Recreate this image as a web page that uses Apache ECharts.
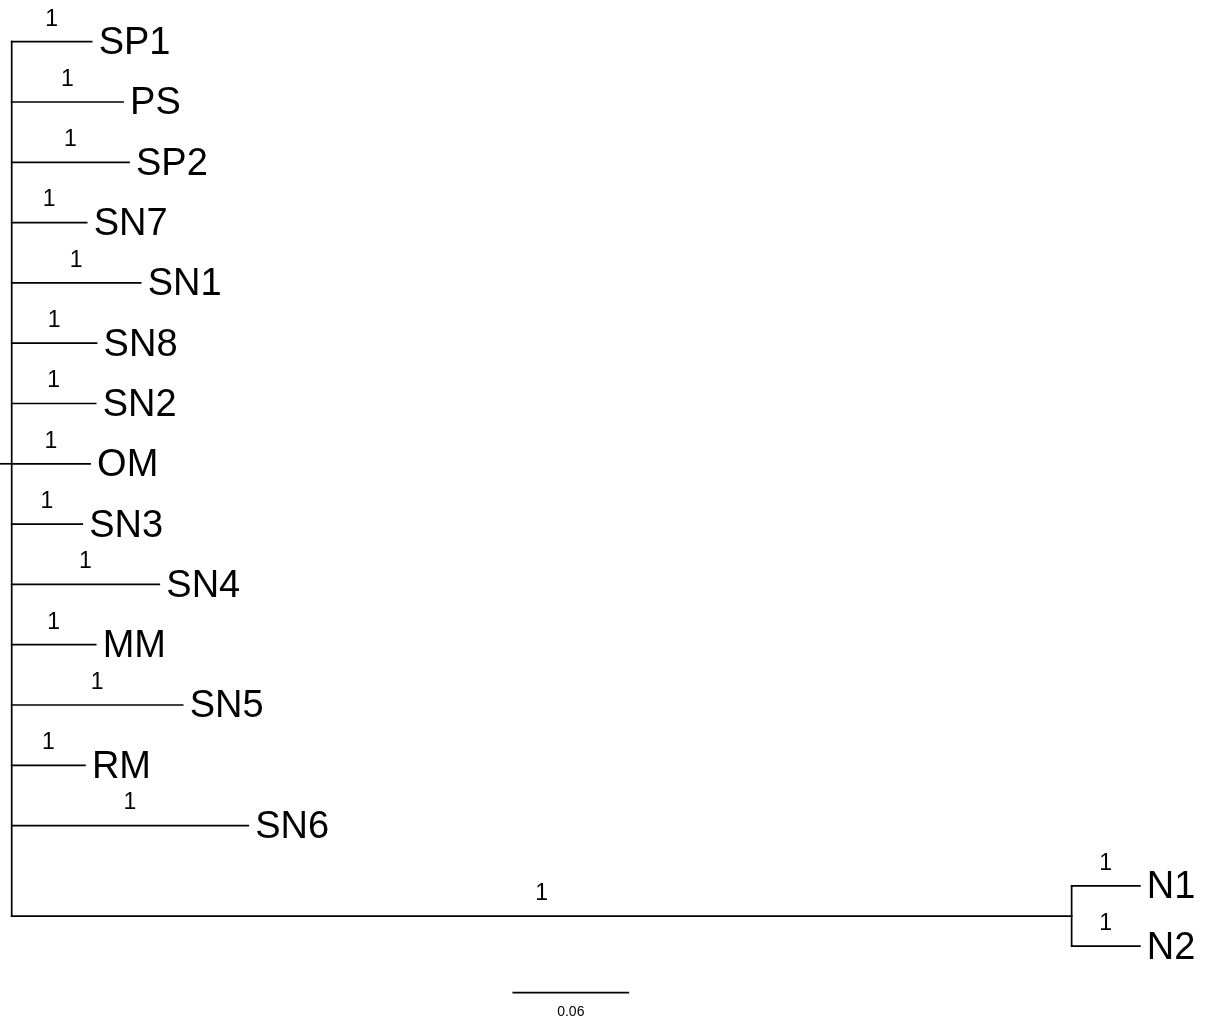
<!DOCTYPE html>
<html><head><meta charset="utf-8">
<script src="https://cdn.jsdelivr.net/npm/echarts@6/dist/echarts.min.js"></script>
<style>html,body{margin:0;padding:0;background:#fff}#chart{width:1207px;height:1022px}</style>
</head><body><div id="chart"></div>
<script>
// ---- data (branch lengths in substitutions/site) ----
const leafNames     = ['SP1','PS','SP2','SN7','SN1','SN8','SN2','OM','SN3','SN4','MM','SN5','RM','SN6'];
const leafLengths   = [0.0417,0.0581,0.0612,0.0391,0.0673,0.0443,0.0438,0.0409,0.0368,0.0770,0.0438,0.0892,0.0382,0.1234];
const leafSupport   = ['1','1','1','1','1','1','1','1','1','1','1','1','1','1'];
const outgroupStemLength  = 0.553;
const outgroupStemSupport = '1';
const outgroupNames   = ['N1','N2'];
const outgroupLengths = [0.0356,0.0356];
const outgroupSupport = ['1','1'];
const scaleBarLength = 0.06;
const scaleBarLabel  = '0.06';

// ---- layout (computed) ----
const FONT = "'Liberation Sans', Arial, Helvetica, sans-serif";
const rootStub = 0.0061;
const rootRow = 7;
const nLeaves = leafNames.length;
const ogStemRow = nLeaves + 0.5;
const scaleX = 0.2617, scaleRow = 15.77;

const segs = [];
const labels = [];
const meta = [];
segs.push([0, 0, 0, ogStemRow]);
segs.push([-rootStub, rootRow, 0, rootRow]);
leafNames.forEach((n, i) => {
  segs.push([0, i, leafLengths[i], i]);
  labels.push([leafLengths[i], i]); meta.push({t: n, kind: 'tip'});
  labels.push([leafLengths[i] / 2, i]); meta.push({t: leafSupport[i], kind: 'sup'});
});
segs.push([0, ogStemRow, outgroupStemLength, ogStemRow]);
labels.push([outgroupStemLength / 2, ogStemRow]); meta.push({t: outgroupStemSupport, kind: 'sup'});
segs.push([outgroupStemLength, nLeaves, outgroupStemLength, nLeaves + 1]);
outgroupNames.forEach((n, j) => {
  const r = nLeaves + j;
  segs.push([outgroupStemLength, r, outgroupStemLength + outgroupLengths[j], r]);
  labels.push([outgroupStemLength + outgroupLengths[j], r]); meta.push({t: n, kind: 'tip'});
  labels.push([outgroupStemLength + outgroupLengths[j] / 2, r]); meta.push({t: outgroupSupport[j], kind: 'sup'});
});
segs.push([scaleX, scaleRow, scaleX + scaleBarLength, scaleRow]);
labels.push([scaleX + scaleBarLength / 2, scaleRow]); meta.push({t: scaleBarLabel, kind: 'scale'});

const chart = echarts.init(document.getElementById('chart'), null, {renderer: 'canvas'});
chart.setOption({
  backgroundColor: '#ffffff',
  animation: false,
  grid: {left: 11.7, top: 41.7, width: 0.6 * 1916.7, height: 16 * 60.3},
  xAxis: {type: 'value', min: 0, max: 0.6, show: false},
  yAxis: {type: 'value', min: 0, max: 16, inverse: true, show: false},
  series: [
    {
      type: 'custom', coordinateSystem: 'cartesian2d', clip: false,
      data: segs,
      encode: {x: [0, 2], y: [1, 3]},
      renderItem: function (params, api) {
        const p1 = api.coord([api.value(0), api.value(1)]);
        const p2 = api.coord([api.value(2), api.value(3)]);
        return {type: 'line', shape: {x1: p1[0], y1: p1[1], x2: p2[0], y2: p2[1]},
                style: {stroke: '#000', lineWidth: 1.7, lineCap: 'square'}};
      }
    },
    {
      type: 'custom', coordinateSystem: 'cartesian2d', clip: false,
      data: labels,
      encode: {x: 0, y: 1},
      renderItem: function (params, api) {
        const p = api.coord([api.value(0), api.value(1)]);
        const m = meta[params.dataIndex];
        if (m.kind === 'tip') {
          return {type: 'text', x: p[0] + 7, y: p[1] + 2,
                  style: {text: m.t, fill: '#000', font: '38px ' + FONT, textAlign: 'left', textVerticalAlign: 'middle'}};
        } else if (m.kind === 'sup') {
          return {type: 'text', x: p[0], y: p[1] - 11,
                  style: {text: m.t, fill: '#000', font: '23px ' + FONT, textAlign: 'center', textVerticalAlign: 'bottom'}};
        }
        return {type: 'text', x: p[0], y: p[1] + 20,
                style: {text: m.t, fill: '#000', font: '14px ' + FONT, textAlign: 'center', textVerticalAlign: 'middle'}};
      }
    }
  ]
});
</script></body></html>
